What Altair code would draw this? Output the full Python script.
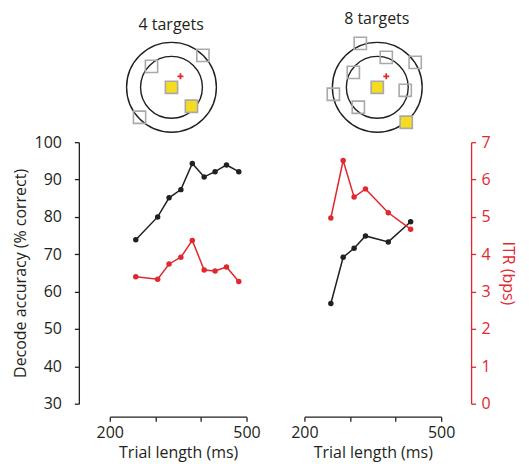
import altair as alt
import pandas as pd

# ---- data ----
panel_titles = ["4 targets", "8 targets"]

ms4 = [257, 305, 330, 356, 381, 407, 431, 456, 483]
acc4 = [73.9, 80.0, 85.1, 87.3, 94.3, 90.7, 92.1, 93.9, 92.1]
itr4 = [3.40, 3.33, 3.74, 3.92, 4.37, 3.58, 3.55, 3.66, 3.27]

ms8 = [258, 285, 309, 334, 384, 433]
acc8 = [56.8, 69.2, 71.6, 74.9, 73.3, 78.7]
itr8 = [4.97, 6.51, 5.53, 5.75, 5.11, 4.67]

x_ticks = [200, 300, 400, 500]
x_labels = [200, 500]
acc_ticks = [30, 40, 50, 60, 70, 80, 90, 100]
itr_ticks = [0, 1, 2, 3, 4, 5, 6, 7]

# icon layouts (target positions, icon units)
ring_center_x = [0]
ring_center_y = [0]
gray4_x = [-20, 31.5, -32]
gray4_y = [21, 32, -30]
yellow4_x = [0, 20]
yellow4_y = [0, -19]
gray8_x = [-17, 9, 38, -24, -44, 28, -19]
gray8_y = [44, 30, 25, 15, -7, -3, -20]
yellow8_x = [0, 29]
yellow8_y = [0, -35]
cursor_x = [9]
cursor_y = [11]

BLACK = "#231f20"
RED = "#e0282e"
GRAY = "#a7a9ac"
YELLOW = "#f6dc1f"
FONT = "Open Sans"

PW, PH = 137, 262
IH = 90


def icon(title, gx, gy, yx, yy, xdom, dx):
    def enc(ch):
        return ch.encode(
            x=alt.X("x:Q", scale=alt.Scale(domain=xdom, nice=False, zero=False), axis=None),
            y=alt.Y("y:Q", scale=alt.Scale(domain=[-45, 45], nice=False, zero=False), axis=None),
        )

    ring_df = pd.DataFrame({"x": ring_center_x, "y": ring_center_y})
    inner = enc(alt.Chart(ring_df).mark_point(shape="circle", filled=False, color=BLACK,
                                              strokeWidth=1.4, size=3844, opacity=1))
    outer = enc(alt.Chart(ring_df).mark_point(shape="circle", filled=False, color=BLACK,
                                              strokeWidth=1.4, size=8100, opacity=1))
    grays = enc(alt.Chart(pd.DataFrame({"x": gx, "y": gy})).mark_point(
        shape="square", filled=False, color=GRAY, strokeWidth=1.6, size=150, opacity=1))
    yellows = enc(alt.Chart(pd.DataFrame({"x": yx, "y": yy})).mark_point(
        shape="square", filled=True, fill=YELLOW, stroke=GRAY, strokeWidth=1.6,
        size=150, opacity=1, fillOpacity=1))
    plus = enc(alt.Chart(pd.DataFrame({"x": cursor_x, "y": cursor_y})).mark_point(
        shape="M-1,0L1,0M0,-1L0,1", filled=False, color=RED, strokeWidth=1.8,
        size=36, opacity=1))
    return alt.layer(outer, inner, grays, yellows, plus).properties(
        width=PW, height=IH,
        title=alt.TitleParams(title, fontSize=16, font=FONT, fontWeight="normal",
                              color=BLACK, dx=dx, offset=7),
    )


def panel(ms, acc, itr, show_left, show_right):
    df = pd.DataFrame({"ms": ms, "acc": acc, "itr": itr})
    label_test = " || ".join(f"datum.value == {v}" for v in x_labels)
    xenc = alt.X(
        "ms:Q",
        scale=alt.Scale(domain=[200, 500], nice=False, zero=False),
        axis=alt.Axis(values=x_ticks, labelExpr=f"({label_test}) ? datum.label : ''",
                      title="Trial length (ms)", offset=13, tickSize=4.5, labelPadding=3,
                      titlePadding=4.5, labelFlush=False),
    )
    acc_axis = alt.Axis(values=acc_ticks, title="Decode accuracy (% correct)", offset=31,
                        tickSize=4.5, labelPadding=13, titlePadding=6) if show_left else None
    itr_axis = alt.Axis(values=itr_ticks, title="ITR (bps)", orient="right", offset=30,
                        tickSize=4.5, labelPadding=5.5, titlePadding=9,
                        domainColor=RED, tickColor=RED, labelColor=RED,
                        titleColor=RED) if show_right else None
    acc_layer = alt.Chart(df).mark_line(
        color=BLACK, strokeWidth=1.5,
        point=alt.OverlayMarkDef(color=BLACK, size=30, filled=True, opacity=1),
    ).encode(
        x=xenc,
        y=alt.Y("acc:Q", scale=alt.Scale(domain=[30, 100], nice=False, zero=False), axis=acc_axis),
    )
    itr_layer = alt.Chart(df).mark_line(
        color=RED, strokeWidth=1.5,
        point=alt.OverlayMarkDef(color=RED, size=30, filled=True, opacity=1),
    ).encode(
        x=xenc,
        y=alt.Y("itr:Q", scale=alt.Scale(domain=[0, 7], nice=False, zero=False), axis=itr_axis),
    )
    return alt.layer(acc_layer, itr_layer).resolve_scale(y="independent").properties(
        width=PW, height=PH)


icon4 = icon(panel_titles[0], gray4_x, gray4_y, yellow4_x, yellow4_y, [-61.8, 75.2], -7)
icon8 = icon(panel_titles[1], gray8_x, gray8_y, yellow8_x, yellow8_y, [-73, 64], 4)
p4 = panel(ms4, acc4, itr4, True, False)
p8 = panel(ms8, acc8, itr8, False, True)

chart = alt.concat(
    icon4, icon8, p4, p8, columns=2, bounds="flush", align="each",
    spacing={"row": 10, "column": 58},
).properties(
    padding={"left": 4, "top": 2, "right": 5, "bottom": 6}
).configure_view(stroke=None).configure_axis(
    grid=False, labelFont=FONT, titleFont=FONT, labelFontSize=16, titleFontSize=16,
    titleFontWeight="normal", domainColor=BLACK, tickColor=BLACK, labelColor=BLACK,
    titleColor=BLACK, domainWidth=1.3, tickWidth=1.3,
)

chart.save("out.html", embed_options={"renderer": "svg", "actions": False})
